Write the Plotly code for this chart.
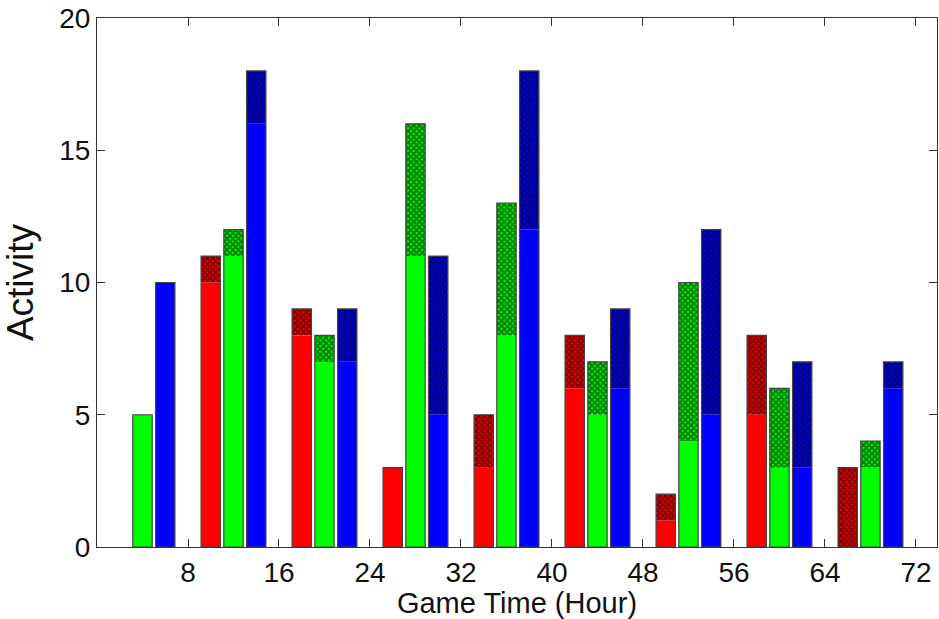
import plotly.graph_objects as go

# Data
red_hours = [2, 10, 18, 26, 34, 42, 50, 58, 66]
green_hours = [4, 12, 20, 28, 36, 44, 52, 60, 68]
blue_hours = [6, 14, 22, 30, 38, 46, 54, 62, 70]

red_solid = [0, 10, 8, 3, 3, 6, 1, 5, 0]
red_hatch = [0, 1, 1, 0, 2, 2, 1, 3, 3]
green_solid = [5, 11, 7, 11, 8, 5, 4, 3, 3]
green_hatch = [0, 1, 1, 5, 5, 2, 6, 3, 1]
blue_solid = [10, 16, 7, 5, 12, 6, 5, 3, 6]
blue_hatch = [0, 2, 2, 6, 6, 3, 7, 4, 1]

x_ticks = [8, 16, 24, 32, 40, 48, 56, 64, 72]
y_ticks = [0, 5, 10, 15, 20]

def nz(v):
    return [a if a != 0 else None for a in v]

BAR_W = 1.7
fig = go.Figure()
series = [
    (red_hours, red_solid, red_hatch, "#ff0000"),
    (green_hours, green_solid, green_hatch, "#00ff00"),
    (blue_hours, blue_solid, blue_hatch, "#0000ff"),
]
for hours, solid, hatch, col in series:
    fig.add_trace(go.Bar(
        x=hours, y=nz(solid), width=BAR_W,
        marker=dict(color=col, line=dict(width=0)),
        showlegend=False,
    ))
    fig.add_trace(go.Bar(
        x=hours, y=nz(hatch), base=solid, width=BAR_W,
        marker=dict(color=col, line=dict(width=0),
                    pattern=dict(shape="x", fgcolor="#000000", bgcolor=col,
                                 size=4, solidity=0.72, fillmode="overlay")),
        showlegend=False,
    ))
    totals = [s + h for s, h in zip(solid, hatch)]
    fig.add_trace(go.Bar(
        x=hours, y=nz(totals), width=BAR_W,
        marker=dict(color="rgba(0,0,0,0)", line=dict(color="#444444", width=1.2)),
        showlegend=False, hoverinfo="skip",
    ))

FONT = "Liberation Sans, Arial"
axis_common = dict(
    showline=True, linecolor="#333333", linewidth=1, mirror="ticks",
    ticks="inside", ticklen=8, tickcolor="#333333", showgrid=False,
    zeroline=False, automargin=False, ticklabeloverflow="allow",
    tickfont=dict(family=FONT, size=28, color="#111111"),
)

fig.update_layout(
    barmode="overlay",
    width=939, height=619,
    margin=dict(l=97, r=2, t=18, b=72),
    paper_bgcolor="white", plot_bgcolor="white",
    xaxis=dict(range=[0, 73.85], tickvals=x_ticks,
               title=dict(text="Game Time (Hour)", standoff=0,
                          font=dict(family=FONT, size=29, color="#111111")),
               **axis_common),
    yaxis=dict(range=[0, 20], tickvals=y_ticks,
               title=dict(text="Activity", standoff=21,
                          font=dict(family=FONT, size=37, color="#111111")),
               **axis_common),
)

# remove the default 8px page margin so the figure fills the window exactly
fig.write_html("out.html", config={"displayModeBar": False},
               post_script="document.body.style.margin='0';")
